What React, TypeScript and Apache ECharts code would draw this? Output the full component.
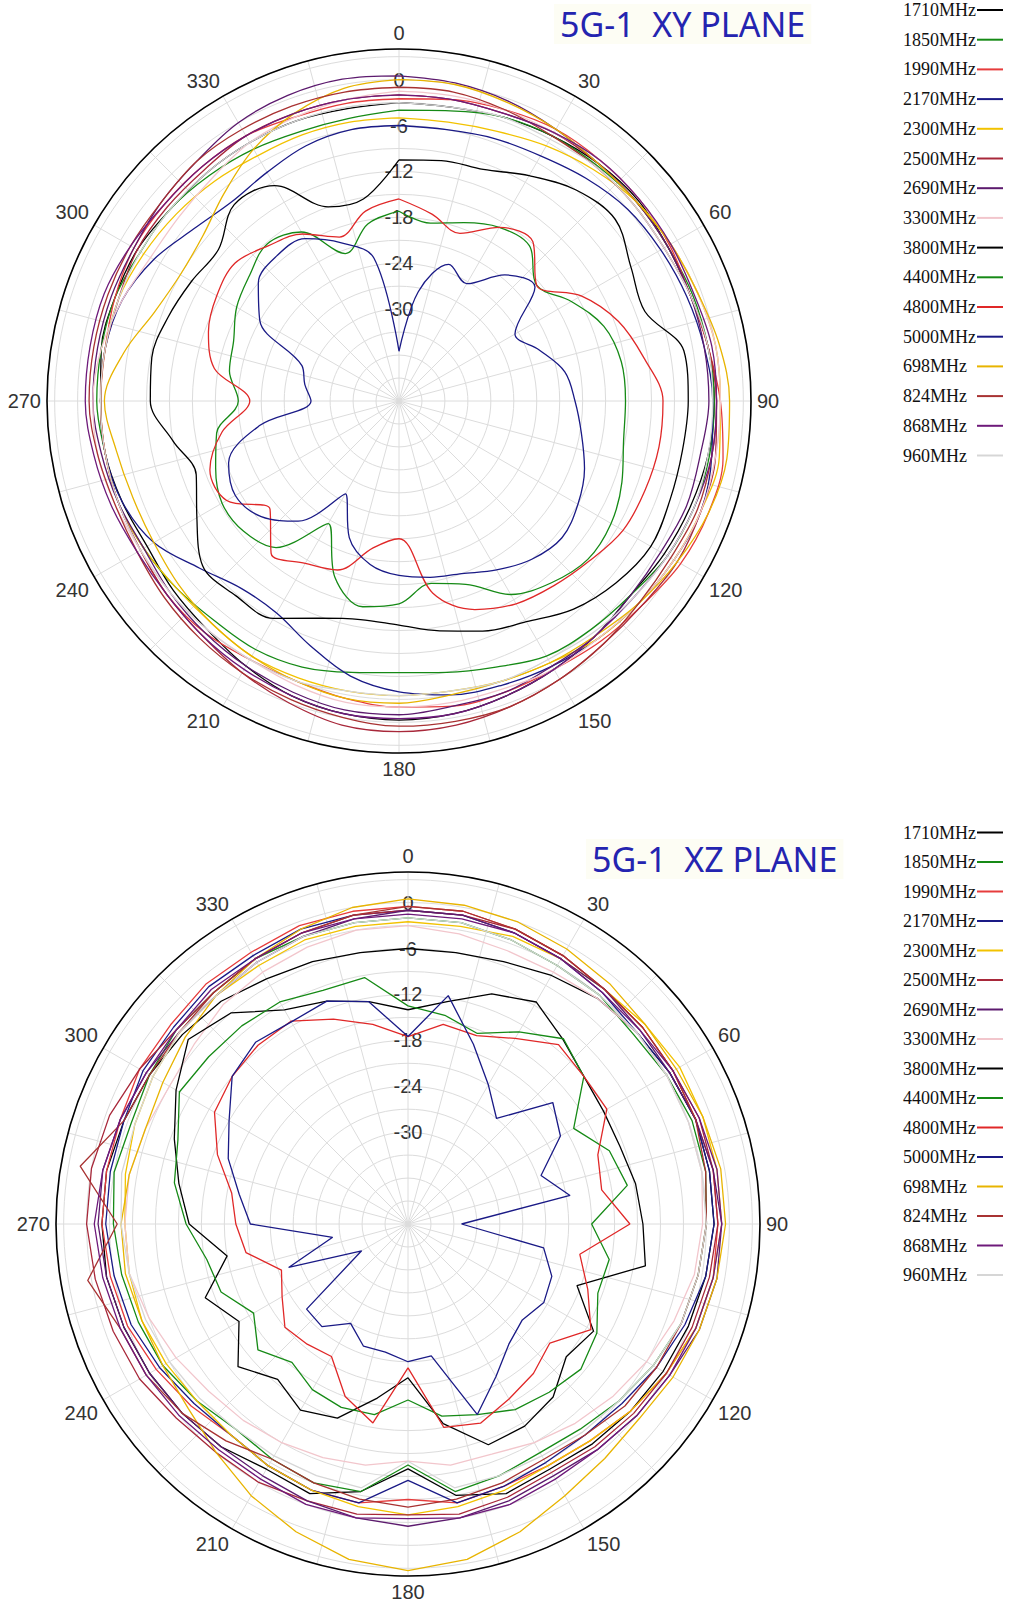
import React, { useEffect, useRef } from "react";
import * as echarts from "echarts";

// ---------- shared axis data ----------
const ANGLES = [0, 10, 20, 30, 40, 50, 60, 70, 80, 90, 100, 110, 120, 130, 140, 150, 160, 170,
  180, 190, 200, 210, 220, 230, 240, 250, 260, 270, 280, 290, 300, 310, 320, 330, 340, 350];
const RADIUS_TICK_LABELS = [0, -6, -12, -18, -24, -30];

const SERIES_NAMES = ["1710MHz", "1850MHz", "1990MHz", "2170MHz", "2300MHz", "2500MHz", "2690MHz", "3300MHz",
  "3800MHz", "4400MHz", "4800MHz", "5000MHz", "698MHz", "824MHz", "868MHz", "960MHz"];
const SERIES_COLORS = ["#000000", "#168a16", "#e63c3c", "#1a1a86", "#f2c200", "#a8283a", "#5c1a6e", "#f2c6cc",
  "#000000", "#168a16", "#e02828", "#1a1a86", "#e8b400", "#a83232", "#6e1a7a", "#d6d6d6"];

// ---------- XY plane (dB values at ANGLES) ----------
const xy1710 = [-3, -3, -2.5, -2, -1.5, -1.2, -1.5, -1.5, -1, -0.8, -1, -1.5, -2, -2.5, -2, -1.5, -1, -0.5, -0.3, -0.5, -1, -2, -3, -3.5, -4, -3.5, -3, -3, -2.5, -2.5, -2.5, -3, -3, -3, -3, -3.2];
const xy1850 = [-4, -3.5, -2.5, -2, -1.8, -1.5, -1.5, -1.2, -1, -0.8, -0.8, -1, -1.5, -2.5, -3, -3.5, -5, -6, -6.5, -6, -5, -4.5, -4.5, -4, -3.5, -3, -3, -2.5, -2.5, -2.5, -3, -3, -3.5, -4, -4.5, -4.5];
const xy1990 = [-2.5, -2, -1.5, -1, -1, -1, -1.2, -1.5, -1, 0, 1, 1, 0.5, -0.5, -1, -1.5, -1.5, -1.5, -2, -2.5, -3, -3, -2.5, -2.5, -3, -3, -3, -3, -3, -2.5, -2, -2, -2, -2, -2.5, -2.5];
const xy2170 = [-6, -6, -5.5, -5, -4, -3, -2.5, -2, -1.5, -1, -0.5, 0, -0.5, -1, -1.5, -2, -2.5, -3, -4, -5.5, -8, -10, -10, -8, -5, -3.5, -3, -3, -3, -3.5, -5, -7, -8, -7.5, -6.5, -6];
const xy2300 = [-5, -5, -4.5, -3.5, -2.5, -1.5, -1, -0.5, 0, 0, 0.5, 0, -0.5, -1, -1.5, -2.5, -3, -3.5, -3.5, -3.5, -3.5, -3.5, -4, -4, -3.5, -3, -3, -3, -3, -3, -3.5, -4, -4.5, -5, -5, -5];
const xy2500 = [-2, -2, -2, -1.5, -1.5, -1.5, -1.5, -1.5, -1, -0.5, 0, 0, 0, -0.5, -0.5, 0, 0.5, 1, 1.2, 1, 0, -1, -2, -2.5, -3, -3, -3, -3, -3, -3, -2.5, -2.5, -2.5, -2, -2, -2];
const xy2690 = [0.5, 0.2, -0.3, -1, -1.5, -1.5, -1.5, -1.5, -1.5, -1.5, -2, -2, -2.5, -2.5, -2, -2, -1.5, -1.5, -1, -1, -1.5, -2, -2.5, -3, -3.5, -3, -2.5, -2, -2, -2, -2, -1.5, -1, 0, 0.5, 0.7];
const xy3300 = [-1.5, -1.5, -1.5, -1.5, -1, -1, -1, -0.5, 0, 0, 0, 0, -0.5, -1, -1.5, -1.5, -2, -2, -2, -2, -2.5, -3, -3, -3, -3, -2.5, -2, -2, -2.5, -3.5, -4.5, -4.5, -4, -3, -2.5, -2];
const xy3800 = [-10.5, -10.1, -9.8, -8, -6, -5.1, -7, -7.8, -4.2, -4.2, -4.4, -4.3, -4, -5, -6.5, -8.7, -10, -11.5, -12.7, -13, -11.8, -9.2, -8.8, -8.5, -11.5, -13.8, -12, -9.5, -9.2, -9.9, -10.7, -11.2, -8.5, -9.5, -15, -15.2];
const xy4400 = [-17.2, -18.4, -17.2, -15.8, -15.5, -18.5, -16, -13.5, -12.5, -12.4, -12.2, -11, -10, -9.8, -11, -12.8, -16.5, -17.8, -15.5, -14.7, -17.5, -23.5, -17, -15.5, -15.3, -16.5, -17.8, -21, -19.5, -19, -17.5, -16.5, -15.2, -16.5, -21.5, -18.5];
const xy4800 = [-15.6, -17.2, -18.7, -15.8, -14.8, -18.5, -14.5, -11.5, -9.5, -7.5, -7.5, -7.8, -8.2, -9.5, -10.5, -11.4, -13, -16.5, -24, -22.5, -18.5, -17.5, -16, -20, -16, -15.7, -18.5, -22.5, -17.5, -15.5, -14.5, -14, -15.5, -16.8, -19.2, -16.8];
const xy5000 = [-35.5, -27.5, -23, -24.3, -20.5, -18.8, -24.5, -22.5, -20, -19, -17.8, -16.2, -15, -14.2, -15, -16.5, -18, -18.6, -19.2, -20.3, -23, -28, -21.5, -18.5, -17.3, -18.3, -23.5, -30.5, -29.5, -28.5, -21, -18, -17.2, -17.5, -20, -23];
const xy698 = [0, 0, -0.5, -1, -1.5, -1.5, -1, -0.5, 0.5, 1.2, 1.5, 1, 0, -1, -2, -2.5, -3, -3, -2.5, -2.5, -3, -3.5, -4, -4.5, -5, -5, -4.5, -3.5, -5.5, -8, -9, -8.5, -6.5, -4, -2, -0.5];
const xy824 = [-1, -1, -1.5, -2, -2, -2, -2, -1.5, -1, -0.5, -0.5, -0.5, -1, -1, -0.5, 0, 0.5, 0.5, 0.5, 0, -0.5, -1, -1.5, -2, -2.5, -2.5, -2, -1.5, -1.5, -1.5, -1.5, -1.5, -1, -1, -1, -1];
const xy868 = [-2, -2, -2, -1.5, -1, -1, -1, -1, -0.5, -0.5, -0.5, -1, -1.5, -2, -2, -1.5, -1, -0.5, -0.5, -0.5, -1, -1.5, -2, -2.5, -2.5, -2, -1.5, -1, -1, -1, -1.5, -2, -2, -2, -2, -2];
const xy960 = [-3, -3, -2.5, -2.5, -2, -2, -2, -1.5, -1, -1, -1, -1, -1.5, -2, -2.5, -3, -3, -3.5, -3.5, -3.5, -3, -3, -3, -3, -3, -3, -3, -3, -3, -3, -3, -3, -3, -3, -3, -3];

// ---------- XZ plane (dB values at ANGLES) ----------
const xz1710 = [-6, -6, -5.5, -4.5, -3.5, -3, -2.5, -2, -2, -2, -2.5, -3, -3.5, -4, -4.5, -5, -4.5, -6, -10, -6.5, -4.5, -5, -4, -3.5, -3, -2.5, -2, -2, -2, -2.5, -3, -3.5, -4, -5, -5.5, -6];
const xz1850 = [-2, -2, -2.5, -3, -3, -3.5, -3, -2.5, -2.5, -3, -3.5, -4, -5, -6, -7, -7.5, -7, -6.5, -10.5, -6.5, -6, -6.5, -7, -6, -5, -4.5, -4, -3.5, -3, -3.5, -3, -2.5, -2.5, -2, -2, -2];
const xz1990 = [-0.5, -0.5, -1, -1.5, -2, -2, -2, -2, -1.5, -1.5, -1.5, -2, -3, -4, -5, -5.5, -5.5, -5, -6, -5, -5, -5.5, -6, -5, -4, -3, -2.5, -2, -2, -2, -1.5, -1.5, -1, -1, -0.5, -0.5];
const xz2170 = [-1, -1, -1.5, -2, -2.5, -3, -2.5, -2, -2, -2, -2.5, -3.5, -4.5, -5.5, -6, -6, -5.5, -5, -8.5, -5, -5, -5.5, -6, -5.5, -4.5, -3.5, -3, -2.5, -2.5, -2.5, -2, -2, -1.5, -1.5, -1, -1];
const xz2300 = [-2.5, -2.5, -2, -2, -2, -1.5, -1, -1, -1, -1, -1.5, -2, -3, -4, -5, -5.5, -5, -4.5, -4, -4.5, -5, -5.5, -6, -6, -5.5, -5, -5, -5, -4.5, -4, -3.5, -3, -3, -3, -2.5, -2.5];
const xz2500 = [-1, -1, -1, -1.5, -2, -2, -2, -1.5, -1.5, -1.5, -2, -2.5, -3, -3.5, -4, -4.5, -4, -3.5, -4, -3.5, -3.5, -3, -3, -2.5, -1.5, -1, -0.5, 0, 0, -0.5, -1.5, -2.5, -2.5, -2, -1.5, -1];
const xz2690 = [-1, -1, -1.5, -2, -2, -2.5, -2.5, -2, -1.5, -1, -1, -1.5, -2.5, -3, -3.5, -4, -3.5, -3, -2.5, -3, -3.5, -4, -4, -3.5, -3, -2.5, -2, -1.5, -1.5, -2, -2.5, -3, -3, -2.5, -2, -1.5];
const xz3300 = [-3, -3.5, -4, -4, -3.5, -3, -3, -3, -3, -3.5, -4, -5, -6, -7, -8, -9, -10, -10, -11, -10, -9.5, -9, -8.5, -8, -7, -6, -5, -5, -5, -5.5, -6, -5.5, -4.5, -4, -3.5, -3];
const xz3800 = [-14, -12.5, -10, -8.5, -10.5, -12, -12.5, -12.5, -11.8, -11.3, -10.5, -18.5, -14, -15, -12.5, -11.5, -11.3, -15.5, -21.9, -18.9, -15, -13.9, -15.5, -13, -16.5, -13.8, -18, -13.4, -11.6, -9.5, -7, -4.5, -6, -9.7, -11, -12.5];
const xz4400 = [-13.5, -14.3, -15.5, -13, -10.4, -12, -17, -14, -12.9, -18, -15.3, -15.6, -13.5, -12.5, -13.3, -14, -15.5, -16.5, -19, -16.7, -16.5, -17, -18.4, -16.4, -18.7, -16, -15.3, -13, -11, -10, -7.5, -8, -8.2, -8.5, -9.5, -9.3];
const xz4800 = [-17.5, -15.5, -15.8, -14, -11.4, -12, -12, -15.6, -16.3, -13, -19.2, -17, -14.4, -17.8, -16.5, -15.6, -14.3, -15, -23.2, -15.6, -18, -22, -21.5, -21, -23, -24.4, -20.5, -19.5, -18.6, -15.5, -12.8, -12, -11.5, -11.4, -13.5, -15.5];
const xz5000 = [-17.5, -11.7, -17, -21, -24, -17.3, -19, -23.5, -20.5, -35, -24, -22, -21.5, -22.5, -21.5, -19, -15.5, -24.5, -24, -25, -25, -27, -24.5, -24.7, -35, -25.4, -32, -21.4, -19.6, -17, -15, -12, -11, -11.5, -11, -12.5];
const xz698 = [0.5, 0.3, 0, -0.5, -1, -1.5, -1.5, -1, -0.5, -0.5, -1, -1.5, -2, -2.5, -2, -1, 0.8, 2.5, 3.3, 2.5, 0.8, -1, -3, -4.5, -5, -5, -4.5, -4.5, -5, -5.5, -5, -4, -3, -2, -1, 0];
const xz824 = [-0.5, -0.5, -1, -1.5, -2, -2, -2, -2, -2.5, -3, -3.5, -4, -4.5, -5, -6, -6.5, -6, -5.5, -5, -5.5, -6, -6.5, -5, -3.5, -2.5, -2, 0.5, -4, 1.5, -2.5, -3, -3, -2.5, -2, -1.5, -1];
const xz868 = [-1.5, -1.5, -1.5, -2, -2.5, -2.5, -2, -1.5, -1, -1, -1.5, -2, -2.5, -3, -3.5, -3.5, -3, -3, -3.5, -3, -3, -3.5, -3.5, -3, -2.5, -2, -1.5, -1, -1.5, -2, -2.5, -2.5, -2, -2, -1.5, -1.5];
const xz960 = [-2, -2, -2.5, -3, -3, -3, -3, -3, -3, -3, -3.5, -4, -5, -6, -6.5, -7, -7, -7, -11, -7, -7, -7, -7, -6.5, -6, -5.5, -5, -4.5, -4, -4, -3.5, -3, -3, -2.5, -2, -2];

const XY_VALUES = [xy1710, xy1850, xy1990, xy2170, xy2300, xy2500, xy2690, xy3300,
  xy3800, xy4400, xy4800, xy5000, xy698, xy824, xy868, xy960];
const XZ_VALUES = [xz1710, xz1850, xz1990, xz2170, xz2300, xz2500, xz2690, xz3300,
  xz3800, xz4400, xz4800, xz5000, xz698, xz824, xz868, xz960];

const TITLES = ["5G-1  XY PLANE", "5G-1  XZ PLANE"];

function buildSeries(valuesList: number[][], polarIndex: number, smooth: boolean | number) {
  return valuesList.map((vals, i) => ({
    name: SERIES_NAMES[i],
    type: "line",
    coordinateSystem: "polar",
    polarIndex,
    smooth,
    symbol: "none",
    silent: true,
    z: 3,
    lineStyle: { width: 1.3, color: SERIES_COLORS[i] },
    itemStyle: { color: SERIES_COLORS[i] },
    data: [...ANGLES.map((a, k) => [vals[k], a]), [vals[0], 360]],
  }));
}

const LABEL_FONT = "'Liberation Sans', Arial, sans-serif";

function angleAxis(polarIndex: number) {
  return {
    polarIndex,
    type: "value",
    min: 0,
    max: 360,
    interval: 15,
    startAngle: 90,
    clockwise: true,
    z: 2,
    axisLine: { show: true, lineStyle: { color: "#000", width: 1.6 } },
    axisTick: { show: false },
    axisLabel: {
      formatter: (v: number) => (v % 30 === 0 && v < 360 ? String(v) : ""),
      fontSize: 20,
      color: "#333",
      margin: 6,
      fontFamily: LABEL_FONT,
    },
    splitLine: { show: true, lineStyle: { color: "#dcdcdc", width: 1 } },
  };
}

function radiusAxis(polarIndex: number) {
  return {
    polarIndex,
    type: "value",
    min: -42,
    max: 4,
    interval: 3,
    z: 1,
    axisLine: { show: false },
    axisTick: { show: false },
    axisLabel: {
      formatter: (v: number) => (RADIUS_TICK_LABELS.includes(v) ? String(v) : ""),
      fontSize: 20,
      color: "#333",
      margin: 0,
      align: "center",
      verticalAlign: "middle",
      fontFamily: LABEL_FONT,
    },
    splitLine: { show: true, lineStyle: { color: "#dcdcdc", width: 1 } },
  };
}

function legend(top: number, itemGap: number) {
  return {
    orient: "vertical",
    left: 903,
    top,
    padding: 0,
    align: "right",
    icon: "rect",
    itemWidth: 26,
    itemHeight: 2,
    itemGap,
    data: SERIES_NAMES,
    selectedMode: false,
    formatter: (name: string) => `{n|${name}}`,
    textStyle: {
      rich: {
        n: {
          width: 69,
          align: "left",
          fontFamily: "'Liberation Serif', 'DejaVu Serif', serif",
          fontSize: 18,
          lineHeight: 17,
          color: "#111",
        },
      },
    },
  };
}

function title(text: string, left: number, top: number) {
  return {
    text,
    left,
    top,
    padding: [3, 6],
    backgroundColor: "rgba(250,250,230,0.45)",
    textStyle: {
      color: "#2424b0",
      fontSize: 34,
      fontWeight: "normal",
      fontFamily: "'Noto Sans', 'Open Sans', sans-serif",
    },
  };
}

export default function App() {
  const ref = useRef<HTMLDivElement>(null);

  useEffect(() => {
    if (!ref.current) return;
    const chart = echarts.init(ref.current, undefined, { renderer: "svg" });
    chart.setOption({
      animation: false,
      backgroundColor: "#ffffff",
      title: [title(TITLES[0], 554, 4), title(TITLES[1], 586, 839)],
      legend: [legend(1, 11.7), legend(823.5, 11.5)],
      polar: [
        { center: [399, 401], radius: 352 },
        { center: [408, 1224], radius: 352 },
      ],
      angleAxis: [angleAxis(0), angleAxis(1)],
      radiusAxis: [radiusAxis(0), radiusAxis(1)],
      series: [...buildSeries(XY_VALUES, 0, 0.35), ...buildSeries(XZ_VALUES, 1, false)],
    });
    return () => chart.dispose();
  }, []);

  return (
    <div
      ref={ref}
      style={{ position: "absolute", left: 0, top: 0, width: 1014, height: 1609 }}
    />
  );
}
